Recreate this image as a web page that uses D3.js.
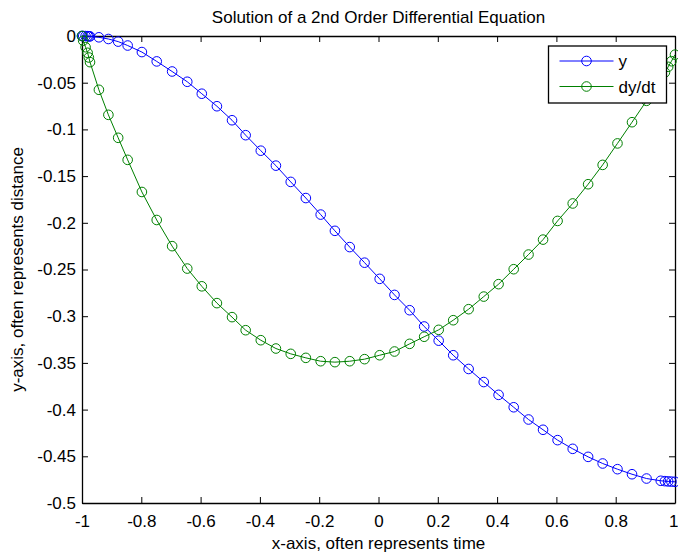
<!DOCTYPE html>
<html>
<head>
<meta charset="utf-8">
<script src="https://cdn.jsdelivr.net/npm/d3@7"></script>
<style>
  body { margin: 0; background: #fff; }
  svg { display: block; font-family: "Liberation Sans", Arial, sans-serif; }
</style>
</head>
<body>
<div id="chart"></div>
<script>
// time samples (shared by both series)
const tVals = [-1, -0.996, -0.988, -0.981, -0.977, -0.973, -0.943, -0.911, -0.878, -0.846,
    -0.798, -0.748, -0.696, -0.645, -0.596, -0.545, -0.494, -0.448, -0.397, -0.346,
    -0.296, -0.245, -0.195, -0.147, -0.097, -0.047, 0.004, 0.054, 0.105, 0.154,
    0.203, 0.252, 0.304, 0.355, 0.405, 0.456, 0.506, 0.555, 0.604, 0.655,
    0.707, 0.756, 0.806, 0.855, 0.904, 0.952, 0.966, 0.977, 0.988, 1.0];

const yVals = [0, 0, -0.0001, -0.0002, -0.0003, -0.0004, -0.0014, -0.0032, -0.006, -0.0102,
    -0.0172, -0.0272, -0.038, -0.049, -0.0618, -0.0752, -0.0902, -0.1062, -0.1228, -0.1388,
    -0.1562, -0.1735, -0.1912, -0.2086, -0.226, -0.2427, -0.26, -0.2772, -0.2936, -0.311,
    -0.3262, -0.3418, -0.3565, -0.3705, -0.3842, -0.3975, -0.4106, -0.4216, -0.4327, -0.442,
    -0.4506, -0.4577, -0.4638, -0.4692, -0.4738, -0.4762, -0.4766, -0.4769, -0.4771, -0.4773];

const dyVals = [0, -0.005, -0.012, -0.018, -0.023, -0.028, -0.0576, -0.0844, -0.109, -0.1326,
    -0.167, -0.197, -0.225, -0.249, -0.268, -0.286, -0.301, -0.315, -0.3257, -0.3346,
    -0.3403, -0.3446, -0.3482, -0.3492, -0.3482, -0.346, -0.3418, -0.3378, -0.3296, -0.322,
    -0.3146, -0.3043, -0.2925, -0.279, -0.2657, -0.2497, -0.234, -0.218, -0.198, -0.1793,
    -0.1587, -0.138, -0.115, -0.0923, -0.0694, -0.046, -0.039, -0.033, -0.027, -0.02];

const xTicks = [-1, -0.8, -0.6, -0.4, -0.2, 0, 0.2, 0.4, 0.6, 0.8, 1];
const yTicks = [0, -0.05, -0.1, -0.15, -0.2, -0.25, -0.3, -0.35, -0.4, -0.45, -0.5];

const seriesNames = ["y", "dy/dt"];
const seriesColors = ["#0000ff", "#008000"];

const W = 678, H = 555;
const margin = { top: 36, right: 3, bottom: 52, left: 82 };
const width = W - margin.left - margin.right;
const height = H - margin.top - margin.bottom;
const fontSize = 17;

const svg = d3.select("#chart").append("svg")
    .attr("width", W)
    .attr("height", H);

const g = svg.append("g")
    .attr("transform", `translate(${margin.left},${margin.top})`);

const x = d3.scaleLinear().domain([-1, 1]).range([0, width]);
const y = d3.scaleLinear().domain([-0.5, 0]).range([height, 0]);

const fmt = d => d === 0 ? "0" : String(d);
const tickLen = 6;

// axes on all four sides, ticks pointing inward
g.append("g").attr("class", "x-axis")
    .attr("transform", `translate(0,${height})`)
    .call(d3.axisBottom(x).tickValues(xTicks).tickFormat(fmt).tickSizeInner(-tickLen).tickSizeOuter(0).tickPadding(12));
g.append("g").attr("class", "x-axis-top")
    .call(d3.axisTop(x).tickValues(xTicks).tickFormat("").tickSizeInner(-tickLen).tickSizeOuter(0));
g.append("g").attr("class", "y-axis")
    .call(d3.axisLeft(y).tickValues(yTicks).tickFormat(fmt).tickSizeInner(-tickLen).tickSizeOuter(0).tickPadding(6));
g.append("g").attr("class", "y-axis-right")
    .attr("transform", `translate(${width},0)`)
    .call(d3.axisRight(y).tickValues(yTicks).tickFormat("").tickSizeInner(-tickLen).tickSizeOuter(0));

g.selectAll(".domain").attr("stroke", "#000").attr("stroke-width", 1.3);
g.selectAll(".tick line").attr("stroke", "#000");
g.selectAll(".tick text").attr("font-size", fontSize).attr("fill", "#000")
    .attr("font-family", "'Liberation Sans', Arial, sans-serif");

// last x label sits right at the figure edge; keep it inside
g.select(".x-axis").selectAll(".tick text")
    .filter(d => d === 1)
    .attr("text-anchor", "end").attr("dx", 3);

// series
const series = [yVals, dyVals].map((vals, i) => ({
    name: seriesNames[i],
    color: seriesColors[i],
    points: tVals.map((t, j) => ({ t: t, v: vals[j] }))
}));

const line = d3.line().x(d => x(d.t)).y(d => y(d.v));

series.forEach(s => {
    const sg = g.append("g");
    sg.append("path")
        .datum(s.points)
        .attr("fill", "none")
        .attr("stroke", s.color)
        .attr("stroke-width", 1)
        .attr("d", line);
    sg.selectAll("circle")
        .data(s.points)
        .enter()
        .append("circle")
        .attr("cx", d => x(d.t))
        .attr("cy", d => y(d.v))
        .attr("r", 4.8)
        .attr("fill", "none")
        .attr("stroke", s.color)
        .attr("stroke-width", 1);
});

// legend
const lg = svg.append("g").attr("transform", "translate(548.5,46)");
lg.append("rect")
    .attr("width", 118).attr("height", 57)
    .attr("fill", "#fff").attr("stroke", "#000").attr("stroke-width", 1.3);
series.forEach((s, i) => {
    const ly = 15 + i * 25.5;
    lg.append("line").attr("x1", 11).attr("x2", 65).attr("y1", ly).attr("y2", ly)
        .attr("stroke", s.color).attr("stroke-width", 1);
    lg.append("circle").attr("cx", 38).attr("cy", ly).attr("r", 4.8)
        .attr("fill", "none").attr("stroke", s.color);
    lg.append("text").attr("x", 70).attr("y", ly + 6)
        .attr("font-size", fontSize).text(s.name);
});

// title and axis labels
svg.append("text")
    .attr("x", margin.left + width / 2).attr("y", 23)
    .attr("text-anchor", "middle").attr("font-size", fontSize)
    .text("Solution of a 2nd Order Differential Equation");

svg.append("text")
    .attr("x", margin.left + width / 2).attr("y", 549)
    .attr("text-anchor", "middle").attr("font-size", fontSize)
    .text("x-axis, often represents time");

svg.append("text")
    .attr("transform", `translate(23,${margin.top + height / 2}) rotate(-90)`)
    .attr("text-anchor", "middle").attr("font-size", fontSize)
    .text("y-axis, often represents distance");
</script>
</body>
</html>
